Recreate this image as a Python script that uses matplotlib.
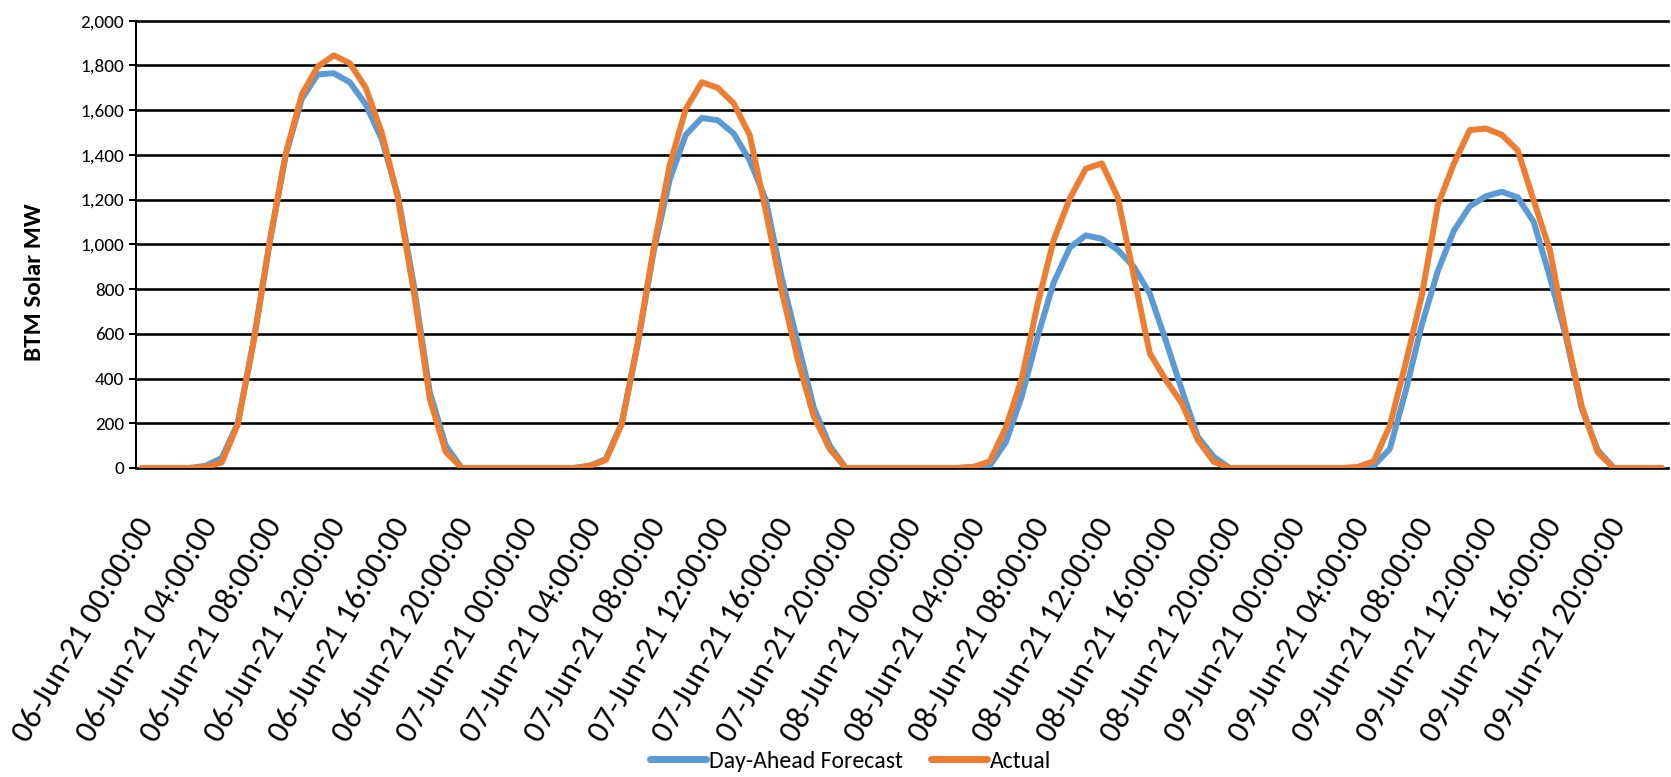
import numpy as np
import pandas as pd
import matplotlib
matplotlib.use("Agg")
import matplotlib.pyplot as plt
from matplotlib import font_manager as fm
from matplotlib.font_manager import FontProperties
from matplotlib.transforms import ScaledTranslation

# ---------------- data ----------------
timestamps = pd.date_range("2021-06-06 00:00", periods=96, freq="h")
tick_positions = list(range(0, 96, 4))
tick_labels = [t.strftime("%d-%b-%y %H:%M:%S") for t in timestamps[::4]]

forecast_mw = [
    0, 0, 0, 0, 10, 45, 200, 570, 1010, 1400, 1650, 1760, 1765, 1725, 1625, 1470, 1220, 820, 340, 100, 0, 0, 0, 0,
    0, 0, 0, 0, 10, 40, 200, 555, 970, 1290, 1490, 1565, 1555, 1495, 1375, 1200, 850, 560, 270, 100, 0, 0, 0, 0,
    0, 0, 0, 0, 5, 10, 115, 320, 590, 830, 985, 1040, 1025, 975, 900, 780, 570, 350, 140, 50, 0, 0, 0, 0,
    0, 0, 0, 0, 0, 10, 85, 345, 640, 880, 1060, 1170, 1215, 1235, 1210, 1100, 855, 590, 265, 80, 0, 0, 0, 0,
]
actual_mw = [
    0, 0, 0, 0, 5, 25, 195, 570, 1015, 1405, 1670, 1795, 1845, 1810, 1700, 1500, 1210, 790, 310, 72, 0, 0, 0, 0,
    0, 0, 0, 0, 10, 35, 197, 560, 985, 1355, 1605, 1725, 1700, 1630, 1488, 1150, 790, 485, 230, 85, 0, 0, 0, 0,
    0, 0, 0, 0, 5, 30, 180, 400, 736, 1020, 1205, 1338, 1362, 1210, 860, 513, 394, 290, 126, 28, 0, 0, 0, 0,
    0, 0, 0, 0, 5, 30, 188, 470, 770, 1175, 1360, 1511, 1518, 1490, 1420, 1195, 975, 605, 275, 70, 0, 0, 0, 0,
]
series_names = ["Day-Ahead Forecast", "Actual"]
y_ticks = list(range(0, 2001, 200))
y_label = "BTM Solar MW"

BLUE = "#5B9BD5"
ORANGE = "#ED7D31"

# ---------------- font choice ----------------
names = {f.name for f in fm.fontManager.ttflist}
FONT = "Lato"
for cand in ["Liberation Sans Narrow", "Carlito", "Lato"]:
    if cand in names:
        FONT = cand
        break
plt.rcParams["font.family"] = [FONT, "DejaVu Sans"]

W, H, DPI = 1671, 777, 100
fig = plt.figure(figsize=(W / DPI, H / DPI), dpi=DPI)
renderer = fig.canvas.get_renderer()
px = 72.0 / DPI  # points per pixel


def measure(s, size, weight="normal"):
    fp = FontProperties(family=[FONT, "DejaVu Sans"], size=size, weight=weight)
    w, h, d = renderer.get_text_width_height_descent(s, fp, ismath=False)
    return w, h - d


# sizes matched to reference text extents (pixels)
w10, _ = measure("2,000", 10)
fs_y = 10 * 44.0 / w10
w10, _ = measure("Day-Ahead Forecast", 10)
fs_leg = 10 * 194.0 / w10
w10, _ = measure(y_label, 10, "bold")
fs_lab = 10 * 158.0 / w10
wx, hx = measure(tick_labels[0], 10)
theta = 60.0
fs_x = 10 * 255.0 / wx

# ---------------- axes ----------------
left, right, top, bottom = 136, 1668, 20.7, 468
ax = fig.add_axes([left / W, 1 - bottom / H, (right - left) / W, (bottom - top) / H])

x = np.arange(len(actual_mw))
lw = 6.0 * px
ax.plot(x, forecast_mw, color=BLUE, lw=lw, solid_joinstyle="round", solid_capstyle="round",
        label=series_names[0], zorder=3)
ax.plot(x, actual_mw, color=ORANGE, lw=lw, solid_joinstyle="round", solid_capstyle="round",
        label=series_names[1], zorder=4)

ax.set_xlim(-0.36, 95.39)
ax.set_ylim(0, 2000)

for s in ["top", "right", "bottom"]:
    ax.spines[s].set_visible(False)
ax.spines["left"].set_linewidth(2.0 * px)
ax.spines["left"].set_color("black")

ax.set_yticks(y_ticks, [f"{v:,}" for v in y_ticks])
ax.tick_params(axis="y", direction="out", length=7 * px, width=2.0 * px, pad=5 * px,
               labelsize=fs_y, colors="black")
ax.yaxis.grid(True, color="black", lw=2.6 * px)
for gl in ax.get_ygridlines():
    gl.set_clip_on(False)
ax.set_axisbelow(True)

# x tick labels
ax.set_xticks(tick_positions, tick_labels, rotation=theta, ha="right", va="center",
              rotation_mode="anchor", fontsize=fs_x)
ax.tick_params(axis="x", length=0, pad=52 * px)
off = ScaledTranslation(5.0 / DPI, 0, fig.dpi_scale_trans)
for lbl in ax.get_xticklabels():
    lbl.set_transform(lbl.get_transform() + off)

# y label
ax.set_ylabel(y_label, fontsize=fs_lab, fontweight="bold", va="center")
ax.yaxis.set_label_coords((35 - left) / (right - left), (bottom - 282) / (bottom - top))

# legend
leg = fig.legend(loc="center", bbox_to_anchor=(851 / W, 1 - 761 / H), ncol=2, frameon=False,
                 fontsize=fs_leg, handlelength=56 / (fs_leg / px), handletextpad=3 / (fs_leg / px),
                 columnspacing=28 / (fs_leg / px))
for h in leg.legend_handles:
    h.set_linewidth(7 * px)
    h.set_solid_capstyle("round")

fig.savefig("out.png", dpi=DPI)
